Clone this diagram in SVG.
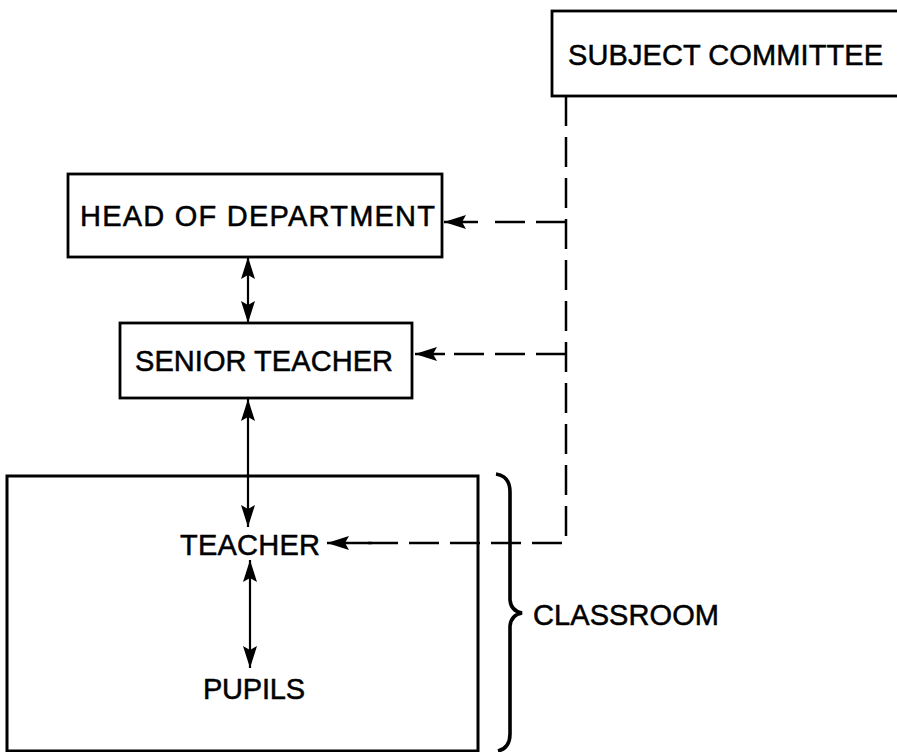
<svg xmlns="http://www.w3.org/2000/svg" width="897" height="752" viewBox="0 0 897 752">
<style>
.box{fill:#fff;stroke:#000;stroke-width:2.8}
.t{font-family:"Liberation Sans",Arial,sans-serif;font-size:29px;fill:#000;stroke:#000;stroke-width:0.5}
.solid{fill:none;stroke:#000;stroke-width:2.2}
.dash{fill:none;stroke:#000;stroke-width:2.5;stroke-dasharray:30 11}
</style>
<defs>
<marker id="ah" markerUnits="userSpaceOnUse" markerWidth="24" markerHeight="16" refX="22" refY="8" orient="auto-start-reverse" viewBox="0 0 24 16">
<path d="M22,8 L0,1 L4,8 L0,15 Z" fill="#000"/>
</marker>
</defs>
<g id="subject-committee">
<rect class="box" x="552" y="11" width="360" height="85"/>
<text class="t" x="568" y="65" textLength="315" lengthAdjust="spacing">SUBJECT COMMITTEE</text>
</g>
<g id="head-of-department">
<rect class="box" x="68" y="174" width="374" height="83"/>
<text class="t" x="80" y="226" textLength="355" lengthAdjust="spacing">HEAD OF DEPARTMENT</text>
</g>
<g id="senior-teacher">
<rect class="box" x="120" y="323" width="292" height="75"/>
<text class="t" x="135" y="371" textLength="258" lengthAdjust="spacing">SENIOR TEACHER</text>
</g>
<g id="classroom">
<rect class="box" x="7" y="476" width="471" height="275" style="stroke-width:3"/>
<path d="M496,474 Q510,476 510,492 L510,600 Q511,611 522,613 Q511,615 510,626 L510,734 Q510,748 498,751" fill="none" stroke="#000" stroke-width="3.6"/>
<text class="t" x="533" y="625" textLength="186" lengthAdjust="spacing">CLASSROOM</text>
</g>
<g id="teacher">
<text class="t" x="180" y="555" textLength="140" lengthAdjust="spacing">TEACHER</text>
</g>
<g id="pupils">
<text class="t" x="203" y="699" textLength="102" lengthAdjust="spacing">PUPILS</text>
</g>
<g id="connectors">
<line class="solid" x1="248" y1="257" x2="248" y2="323" marker-start="url(#ah)" marker-end="url(#ah)"/>
<line class="solid" x1="248" y1="399" x2="248" y2="527" marker-start="url(#ah)" marker-end="url(#ah)"/>
<line class="solid" x1="250" y1="560" x2="250" y2="668" marker-start="url(#ah)" marker-end="url(#ah)"/>
<path class="dash" d="M566,96 V543 H360"/>
<line class="solid" x1="372" y1="543" x2="327" y2="543" marker-end="url(#ah)" style="stroke-width:2.5"/>
<path class="dash" d="M566,222 H485"/>
<line class="solid" x1="478" y1="222" x2="444" y2="222" marker-end="url(#ah)" style="stroke-width:2.5"/>
<path class="dash" d="M566,354 H453"/>
<line class="solid" x1="445" y1="354" x2="415" y2="354" marker-end="url(#ah)" style="stroke-width:2.5"/>
</g>
</svg>
